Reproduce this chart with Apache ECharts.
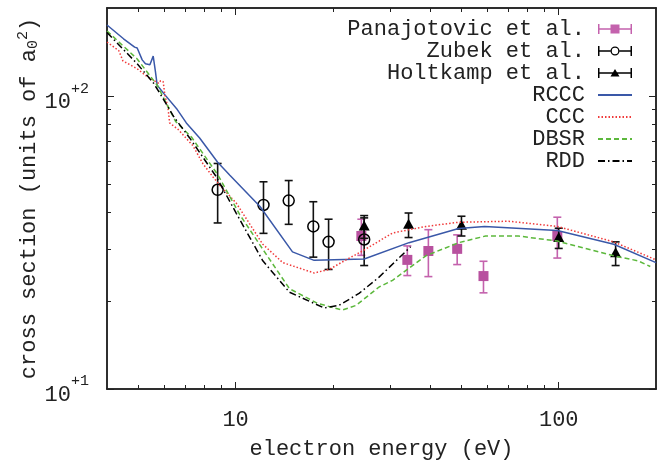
<!DOCTYPE html>
<html>
<head>
<meta charset="utf-8">
<script src="https://cdn.jsdelivr.net/npm/echarts@6/dist/echarts.min.js"></script>
<style>
  html, body { margin: 0; padding: 0; background: #fff; }
  #chart { width: 664px; height: 465px; }
</style>
</head>
<body>
<div id="chart"></div>
<script>
// --- data (energy in eV, cross section in a0^2) ---
const rcccE = [4.0, 4.5, 4.87, 4.96, 5.14, 5.26, 5.43, 5.56, 5.65, 5.72, 6.0, 6.6, 7.04, 7.74, 8.8, 9.6, 11.9, 15.0, 17.5, 25.0, 34.4, 49, 59, 99, 148, 200];
const rcccS = [175, 157, 147, 146, 133, 129, 128, 137, 121, 109, 102, 90, 81, 72, 59.5, 53.7, 42, 29.4, 27.5, 27.8, 31.6, 35.3, 35.9, 34.8, 31.2, 27];

const cccE = [4.0, 4.35, 4.48, 4.96, 5.33, 5.79, 5.86, 5.97, 6.04, 6.18, 6.25, 6.64, 7.38, 7.93, 8.51, 8.93, 10.05, 12.14, 14.0, 17.5, 19.5, 21.7, 24.7, 27.8, 30.6, 38.8, 49, 70, 99, 148, 200];
const cccS = [153, 143, 132, 124, 116.5, 110.6, 113, 112, 101, 91, 81, 77, 67.7, 58.7, 53, 49.7, 43.1, 31.2, 27, 24.9, 25.6, 27.4, 29.6, 32, 34.1, 35.9, 37.1, 37.4, 35.9, 31.8, 27.6];

const dbsrE = [4.0, 4.3, 4.96, 5.72, 6.52, 7.3, 8.8, 10.3, 12.14, 14.68, 17.95, 21.4, 23.6, 27.8, 30.6, 38.8, 49, 59.4, 75, 99, 148, 176, 192];
const dbsrS = [167, 155, 134, 109, 82, 72.5, 54, 39.4, 30, 22, 19.6, 18.6, 19.3, 22.3, 23.5, 28.5, 31.6, 33.3, 33.3, 32, 28.5, 27.4, 26.2];

const rddE = [4.0, 4.96, 5.58, 6.0, 6.44, 7.21, 8.72, 10.05, 12.14, 14.68, 18.8, 20.9, 24.1, 27.8, 34.8];
const rddS = [165, 129, 110.6, 97, 85, 72, 53, 39.8, 27.4, 21.4, 18.9, 19.3, 21.2, 24.1, 30.6];

const panE = [24.5, 34, 39.5, 48.5, 58.5, 99];
const panS = [33.3, 27.6, 29.6, 30.1, 24.3, 33.3];
const panErr = [4.7, 3.2, 5.4, 3.5, 3.0, 5.3];

const zubE = [8.8, 12.2, 14.6, 17.4, 19.4, 25];
const zubS = [47.9, 42.5, 44.0, 35.9, 31.8, 32.4];
const zubErr = [11, 8.5, 7.5, 7.7, 6.2, 6];

const holE = [25, 34.3, 50, 100, 150];
const holS = [35.9, 36.4, 36.1, 32.8, 29.1];
const holErr = [3.2, 3.5, 2.8, 2.6, 2.7];

const xMajor = [10, 100];
const xMinor = [5, 6, 7, 8, 9, 20, 30, 40, 50, 60, 70, 80, 90];
const yMajor = [10, 100];
const yMinor = [20, 30, 40, 50, 60, 70, 80, 90];

const FONT = 'Liberation Mono';
const zip = (a, b) => a.map((v, i) => [v, b[i]]);
const zip3 = (a, b, c) => a.map((v, i) => [v, b[i], c[i]]);

const errorBars = (marker, barColor) => (params, api) => {
  const x = api.value(0), v = api.value(1), e = api.value(2);
  const c = api.coord([x, v]);
  const hi = api.coord([x, v + e]);
  const lo = api.coord([x, v - e]);
  const st = { stroke: barColor, lineWidth: 1.6 };
  const cap = 4;
  return {
    type: 'group',
    children: [
      { type: 'line', shape: { x1: c[0], y1: hi[1], x2: c[0], y2: lo[1] }, style: st },
      { type: 'line', shape: { x1: c[0] - cap, y1: hi[1], x2: c[0] + cap, y2: hi[1] }, style: st },
      { type: 'line', shape: { x1: c[0] - cap, y1: lo[1], x2: c[0] + cap, y2: lo[1] }, style: st },
      marker(c)
    ]
  };
};

const square = c => ({ type: 'rect', shape: { x: c[0] - 5, y: c[1] - 5, width: 10, height: 10 }, style: { fill: '#b8519f' } });
const ring = c => ({ type: 'circle', shape: { cx: c[0], cy: c[1], r: 5.5 }, style: { fill: 'none', stroke: '#000', lineWidth: 1.5 } });
const tri = c => ({ type: 'polygon', shape: { points: [[c[0], c[1] - 6], [c[0] + 5.5, c[1] + 4], [c[0] - 5.5, c[1] + 4]] }, style: { fill: '#000' } });

// legend icons (34 x 10 box)
const iconSquare = 'path://M0 0h1.5v10h-1.5z M32.5 0h1.5v10h-1.5z M0 4.3h34v1.4h-34z M12.5 0.5h9v9h-9z';
const iconRing = 'path://M0 0h1.5v10h-1.5z M32.5 0h1.5v10h-1.5z M0 4.3h12.5v1.4h-12.5z M21.5 4.3h12.5v1.4h-12.5z M21.5 5A4.5 4.5 0 1 0 12.5 5A4.5 4.5 0 1 0 21.5 5Z M20.2 5A3.2 3.2 0 1 1 13.8 5A3.2 3.2 0 1 1 20.2 5Z';
const iconTri = 'path://M0 0h1.5v10h-1.5z M32.5 0h1.5v10h-1.5z M0 4.3h34v1.4h-34z M12.5 8.5L17 1L21.5 8.5Z';

const baseAxis = {
  type: 'log', logBase: 10, splitLine: { show: false }, nameMoveOverlap: false,
  axisLine: { show: true, onZero: false, lineStyle: { color: '#222', width: 1.5 } }
};
const tickAxis = (extra, values, len, label) => Object.assign({}, baseAxis, extra, {
  axisTick: { show: true, inside: true, length: len, customValues: values, lineStyle: { color: '#222', width: 1 } },
  axisLabel: label || { show: false }
});

const xLabel = { show: true, customValues: xMajor, fontFamily: FONT, fontSize: 22, color: '#222', margin: 20 };
const yLabel = {
  show: true, customValues: yMajor, margin: 18,
  verticalAlign: 'middle', verticalAlignMinLabel: 'middle', verticalAlignMaxLabel: 'middle',
  formatter: v => '{b|10}{s|+' + Math.round(Math.log10(v)) + '}',
  rich: {
    b: { fontFamily: FONT, fontSize: 22, color: '#222', padding: [12, 0, 0, 0] },
    s: { fontFamily: FONT, fontSize: 15, color: '#222', verticalAlign: 'bottom', padding: [0, 0, 17, 0] }
  }
};

const lineSeries = (name, e, s, color, dash) => ({
  name, type: 'line', data: zip(e, s), symbol: 'none', showSymbol: false,
  color, lineStyle: { color, width: 1.5, type: dash }, z: 3, animation: false
});
const errSeries = (name, e, s, err, marker, barColor, color) => ({
  name, type: 'custom', data: zip3(e, s, err), encode: { x: 0, y: 1 },
  renderItem: errorBars(marker, barColor), itemStyle: { color }, z: 2, animation: false
});

const option = {
  animation: false,
  grid: { left: 107, right: 8, top: 8, bottom: 69 },
  xAxis: [
    tickAxis({ min: 4, max: 200, position: 'bottom',
      name: 'electron energy (eV)', nameLocation: 'middle', nameGap: 49,
      nameTextStyle: { fontFamily: FONT, fontSize: 22, color: '#222' } }, xMajor, 7, xLabel),
    tickAxis({ min: 4, max: 200, position: 'bottom' }, xMinor, 4),
    tickAxis({ min: 4, max: 200, position: 'top' }, xMajor, 7),
    tickAxis({ min: 4, max: 200, position: 'top' }, xMinor, 4)
  ],
  yAxis: [
    tickAxis({ min: 10, max: 200, position: 'left',
      name: 'cross section (units of a{sub|0}{sup|2})', nameLocation: 'middle', nameGap: 64,
      nameTextStyle: { fontFamily: FONT, fontSize: 22, color: '#222',
        rich: { sub: { fontFamily: FONT, fontSize: 15, color: '#222', verticalAlign: 'top', padding: [10, 0, 0, 0] },
                sup: { fontFamily: FONT, fontSize: 15, color: '#222', verticalAlign: 'bottom', padding: [0, 0, 12, 0] } } } }, yMajor, 7, yLabel),
    tickAxis({ min: 10, max: 200, position: 'left' }, yMinor, 4),
    tickAxis({ min: 10, max: 200, position: 'right' }, yMajor, 7),
    tickAxis({ min: 10, max: 200, position: 'right' }, yMinor, 4)
  ],
  legend: {
    orient: 'vertical', right: 26, top: 13, align: 'right',
    itemWidth: 34, itemHeight: 10, itemGap: 0,
    textStyle: { fontFamily: FONT, fontSize: 22, color: '#222', padding: [0, 8, 0, 0] },
    data: [
      { name: 'Panajotovic et al.', icon: iconSquare, itemStyle: { color: '#c462ad' } },
      { name: 'Zubek et al.', icon: iconRing, itemStyle: { color: '#000' } },
      { name: 'Holtkamp et al.', icon: iconTri, itemStyle: { color: '#000' } },
      { name: 'RCCC', itemStyle: { opacity: 0 } },
      { name: 'CCC', itemStyle: { opacity: 0 } },
      { name: 'DBSR', itemStyle: { opacity: 0 } },
      { name: 'RDD', itemStyle: { opacity: 0 } }
    ]
  },
  series: [
    errSeries('Panajotovic et al.', panE, panS, panErr, square, '#c462ad', '#c462ad'),
    errSeries('Zubek et al.', zubE, zubS, zubErr, ring, '#111', '#000'),
    errSeries('Holtkamp et al.', holE, holS, holErr, tri, '#111', '#000'),
    lineSeries('RCCC', rcccE, rcccS, '#3a58a8', 'solid'),
    lineSeries('CCC', cccE, cccS, '#f03a3a', [1.5, 2]),
    lineSeries('DBSR', dbsrE, dbsrS, '#5cb83c', [5, 3]),
    lineSeries('RDD', rddE, rddS, '#000', [7, 3, 1.5, 3])
  ]
};

const chart = echarts.init(document.getElementById('chart'), null, { renderer: 'canvas' });
chart.setOption(option);
</script>
</body>
</html>
